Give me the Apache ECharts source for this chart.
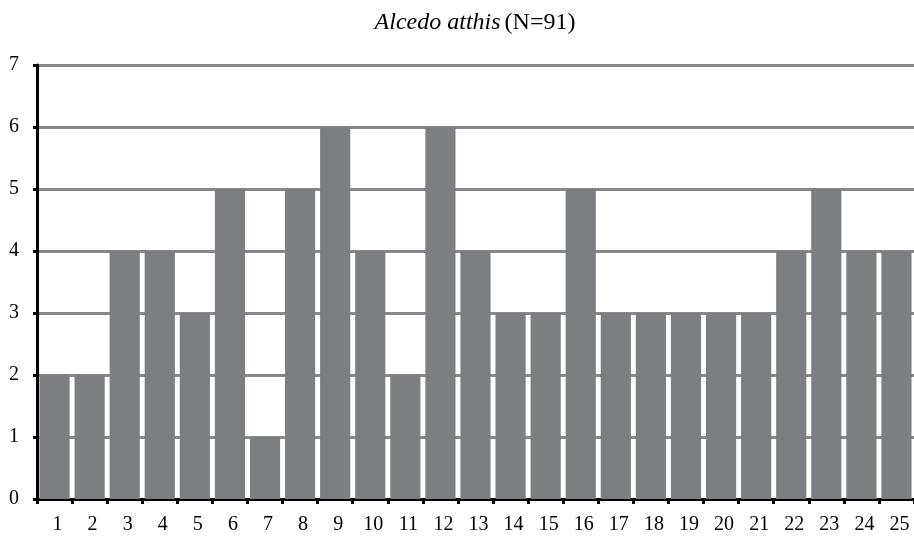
<!DOCTYPE html>
<html><head><meta charset="utf-8">
<script src="https://cdn.jsdelivr.net/npm/echarts@6/dist/echarts.min.js"></script>
<style>html,body{margin:0;padding:0;background:#fff}#c{width:914px;height:540px}</style>
</head><body><div id="c"></div>
<script>
const categories = ['1','2','3','4','5','6','7','8','9','10','11','12','13','14','15','16','17','18','19','20','21','22','23','24','25'];
const counts = [2,2,4,4,3,5,1,5,6,4,2,6,4,3,3,5,3,3,3,3,3,4,5,4,4];
const yTicks = [0,1,2,3,4,5,6,7];
const titleItalic = 'Alcedo atthis';
const titleRest = '(N=91)';

const chart = echarts.init(document.getElementById('c'), null, {renderer:'canvas'});
const font = '"Liberation Serif","Times New Roman",serif';
chart.setOption({
  animation:false,
  title:{
    text:'{i|'+titleItalic+'}{n|'+titleRest+'}',
    left:470, textAlign:'center', top:6,
    textStyle:{fontWeight:'normal',rich:{
      i:{fontFamily:font,fontStyle:'italic',fontWeight:'normal',fontSize:24,color:'#000',padding:[0,4,0,0]},
      n:{fontFamily:font,fontWeight:'normal',fontSize:24,color:'#000'}
    }}
  },
  grid:{left:37,right:0,top:65,bottom:41,containLabel:false},
  xAxis:{
    type:'category', data:categories,
    axisLine:{lineStyle:{color:'#000',width:3}},
    axisTick:{show:true,length:5,lineStyle:{color:'#000',width:3}},
    axisLabel:{fontFamily:font,fontSize:20,color:'#000',margin:16,padding:[0,0,0,6]}
  },
  yAxis:{
    type:'value', min:yTicks[0], max:yTicks[yTicks.length-1], interval:1,
    axisLine:{show:true,lineStyle:{color:'#000',width:3}},
    axisTick:{show:true,length:4,lineStyle:{color:'#000',width:3}},
    axisLabel:{fontFamily:font,fontSize:20,color:'#000',margin:18},
    splitLine:{lineStyle:{color:'#888888',width:3}}
  },
  series:[{
    type:'bar', data:counts, barCategoryGap:'14%',
    itemStyle:{color:'#7d7e82'}
  }]
});
</script></body></html>
